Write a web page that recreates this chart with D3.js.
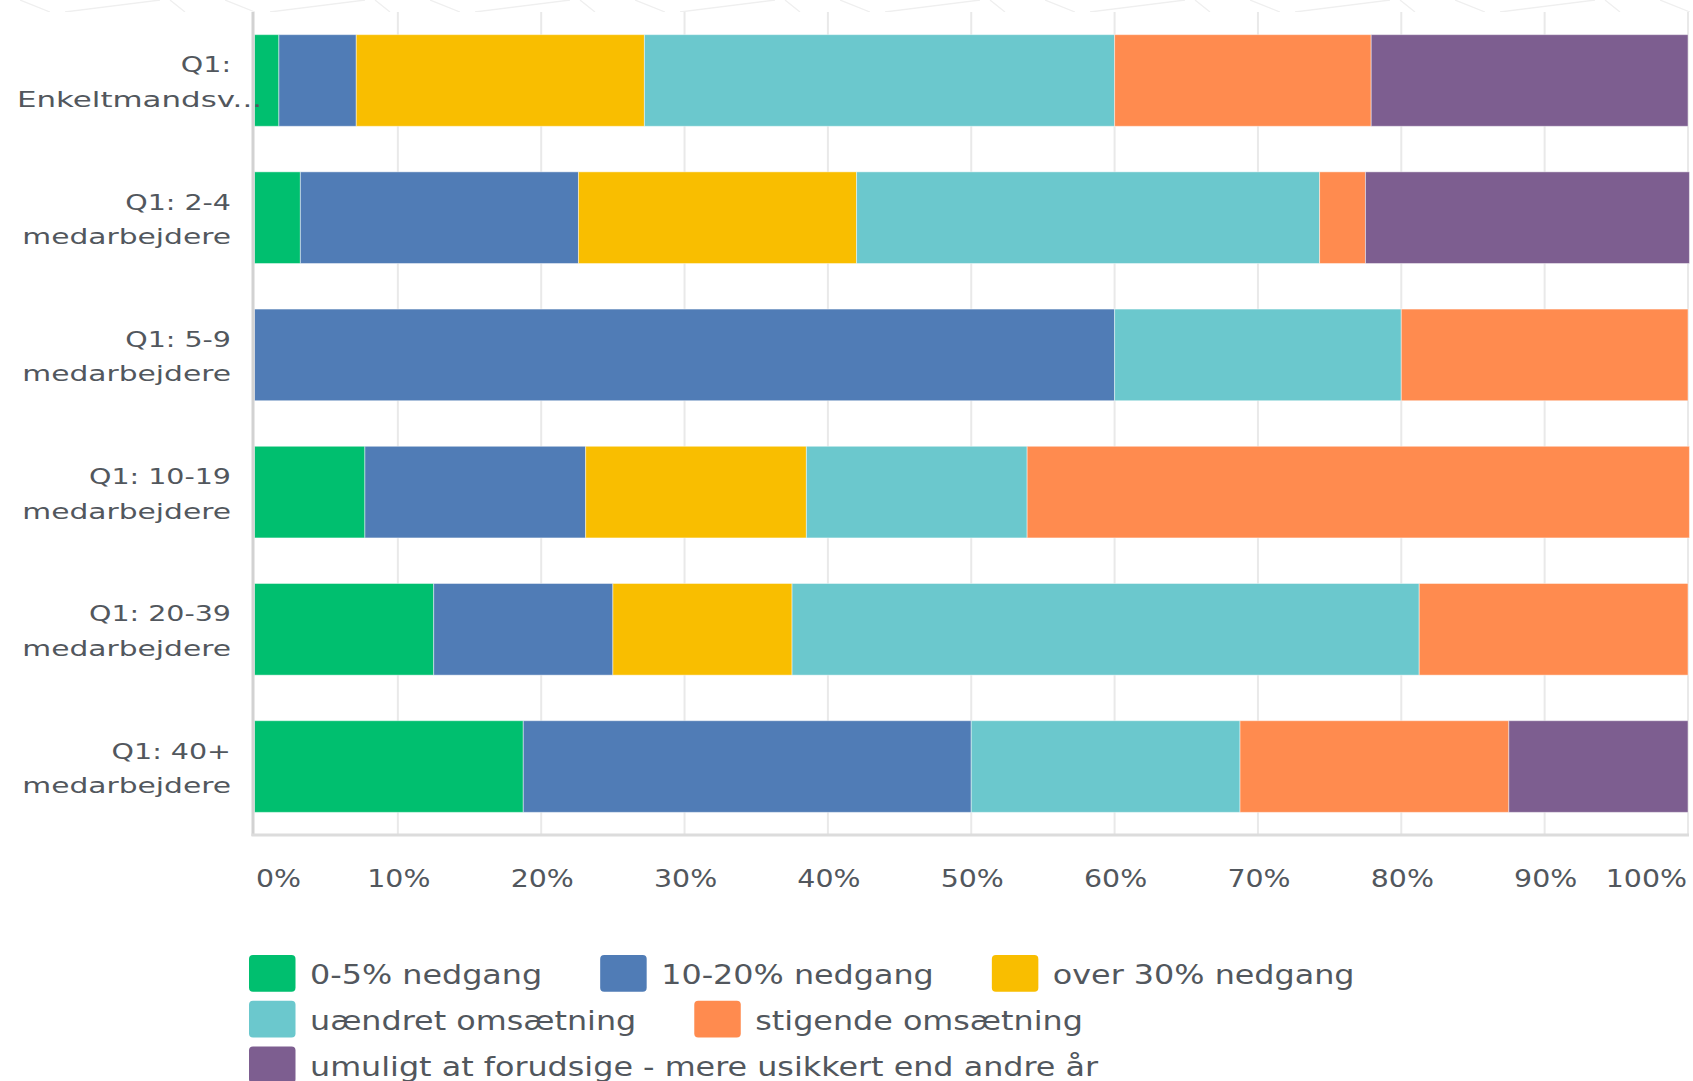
<!DOCTYPE html>
<html><head><meta charset="utf-8">
<script src="https://cdn.jsdelivr.net/npm/d3@7"></script>
<style>html,body{margin:0;padding:0;background:#fff;} svg{display:block;}</style>
</head><body>
<svg id="chart" width="1693" height="1081"></svg>
<script>
// ---- data ----
const categories = [
  "Q1:\nEnkeltmandsv...",
  "Q1: 2-4\nmedarbejdere",
  "Q1: 5-9\nmedarbejdere",
  "Q1: 10-19\nmedarbejdere",
  "Q1: 20-39\nmedarbejdere",
  "Q1: 40+\nmedarbejdere"
];
const seriesNames = [
  "0-5% nedgang",
  "10-20% nedgang",
  "over 30% nedgang",
  "uændret omsætning",
  "stigende omsætning",
  "umuligt at forudsige - mere usikkert end andre år"
];
const vNedgang0_5   = [1.7, 3.2, 0, 7.7, 12.5, 18.75];
const vNedgang10_20 = [5.4, 19.4, 60, 15.4, 12.5, 31.25];
const vNedgangOver30= [20.1, 19.4, 0, 15.4, 12.5, 0];
const vUaendret     = [32.8, 32.3, 20, 15.4, 43.75, 18.75];
const vStigende     = [17.9, 3.2, 20, 46.2, 18.75, 18.75];
const vUmuligt      = [22.1, 22.6, 0, 0, 0, 12.5];
const tickValues = [0, 10, 20, 30, 40, 50, 60, 70, 80, 90, 100];
const tickLabels = ["0%", "10%", "20%", "30%", "40%", "50%", "60%", "70%", "80%", "90%", "100%"];

// ---- styles ----
const colors = ["#00BF6F", "#507CB6", "#F9BE00", "#6BC8CD", "#FF8B4F", "#7D5E90"];
const textColor = "#52575d";
const FONT = "'DejaVu Sans', Verdana, sans-serif";

const seriesValues = [vNedgang0_5, vNedgang10_20, vNedgangOver30, vUaendret, vStigende, vUmuligt];
const rows = categories.map((c, i) => {
  const r = {cat: c};
  seriesNames.forEach((s, j) => r[s] = seriesValues[j][i]);
  return r;
});

const svg = d3.select("#chart");
const W = 1693, H = 1081;
const plotLeft = 254.5, plotRight = 1688, plotTop = 12, plotBottom = 835;

const x = d3.scaleLinear().domain([0, 100]).range([plotLeft, plotRight]);
const y = d3.scaleBand().domain(categories).range([plotTop, plotBottom])
  .paddingInner(0.332).paddingOuter(0.165);

// faint decorative strip at the top
const defs = svg.append("defs");
const pat = defs.append("pattern").attr("id", "strip").attr("patternUnits", "userSpaceOnUse")
  .attr("width", 205).attr("height", 12).attr("x", 20);
pat.append("path").attr("d", "M0,0L30,12M45,12L140,0M150,0L165,12")
  .attr("stroke", "#efefef").attr("stroke-width", 1.3).attr("fill", "none");
svg.append("rect").attr("x", 0).attr("y", 0).attr("width", W).attr("height", 12).attr("fill", "url(#strip)");

// gridlines
svg.append("g").selectAll("line").data(tickValues.slice(1)).join("line")
  .attr("x1", d => x(d)).attr("x2", d => x(d))
  .attr("y1", plotTop).attr("y2", plotBottom)
  .attr("stroke", "#e9e9e9").attr("stroke-width", 2);

// stacked bars
const stack = d3.stack().keys(seriesNames);
const stacked = stack(rows);
svg.append("g").selectAll("g").data(stacked).join("g")
  .attr("fill", (d, i) => colors[i])
  .selectAll("rect").data(d => d.filter(p => p[1] - p[0] > 0)).join("rect")
  .attr("x", d => x(d[0]))
  .attr("width", d => x(d[1]) - x(d[0]))
  .attr("y", d => y(d.data.cat))
  .attr("height", y.bandwidth())
  .attr("stroke", "rgba(255,255,255,0.45)").attr("stroke-width", 1);

// axis lines
svg.append("line").attr("x1", plotLeft - 1.5).attr("x2", plotLeft - 1.5)
  .attr("y1", plotTop).attr("y2", plotBottom + 1)
  .attr("stroke", "#d2d2d2").attr("stroke-width", 3);
svg.append("line").attr("x1", plotLeft - 3).attr("x2", plotRight + 1)
  .attr("y1", plotBottom).attr("y2", plotBottom)
  .attr("stroke", "#dcdcdc").attr("stroke-width", 3);

// helper for horizontally stretched text
function stretchedText(parent, tx, ty, sx, str, size, anchor) {
  const g = parent.append("g").attr("transform", `translate(${tx},${ty}) scale(${sx},1)`);
  const t = g.append("text").attr("x", 0).attr("y", 0)
    .attr("font-family", FONT).attr("font-size", size)
    .attr("fill", textColor).attr("text-anchor", anchor).text(str);
  return {g, t};
}

// category labels
const catG = svg.append("g");
const labelRight = 231, labelSx = 1.35, labelSize = 22, labelMinLeft = 17;
categories.forEach(c => {
  const lines = c.split("\n");
  const cy = y(c) + y.bandwidth() / 2;
  lines.forEach((ln, k) => {
    const by = cy - 8 + k * 34.5;
    const sx = k === 0 ? labelSx * 0.96 : labelSx;
    const o = stretchedText(catG, labelRight, by, sx, ln, labelSize, "end");
    const w = o.t.node().getComputedTextLength() * sx;
    if (labelRight - w < labelMinLeft) {
      o.g.attr("transform", `translate(${labelMinLeft},${by}) scale(${labelSx * 1.04},1)`);
      o.t.attr("text-anchor", "start");
    }
  });
});

// x tick labels
const tickG = svg.append("g");
tickValues.forEach((v, i) => {
  const anchor = i === 0 ? "start" : (i === tickValues.length - 1 ? "end" : "middle");
  const tx = i === 0 ? x(v) + 1.5 : (i === tickValues.length - 1 ? x(v) - 1 : x(v) + 1);
  stretchedText(tickG, tx, 886.5, 1.16, tickLabels[i], 24.5, anchor);
});

// legend (flow layout)
const legG = svg.append("g");
const legLeft = 249, legTop = 955, rowPitch = 45.7, swW = 46.5, swH = 36.7, swGap = 14.5, itemGap = 58;
const legSx = 1.2, legSize = 26.5, legMax = 1690;
let lx = legLeft, row = 0;
seriesNames.forEach((s, i) => {
  const tmp = legG.append("text").attr("font-family", FONT).attr("font-size", legSize).text(s);
  const tw = tmp.node().getComputedTextLength() * legSx;
  tmp.remove();
  const itemW = swW + swGap + tw;
  if (lx > legLeft && lx + itemW > legMax) { row++; lx = legLeft; }
  const ty = legTop + row * rowPitch;
  legG.append("rect").attr("x", lx).attr("y", ty).attr("width", swW).attr("height", swH)
    .attr("rx", 4).attr("fill", colors[i]);
  stretchedText(legG, lx + swW + swGap, ty + 29.3, legSx, s, legSize, "start");
  lx += itemW + itemGap;
});
</script>
</body></html>
